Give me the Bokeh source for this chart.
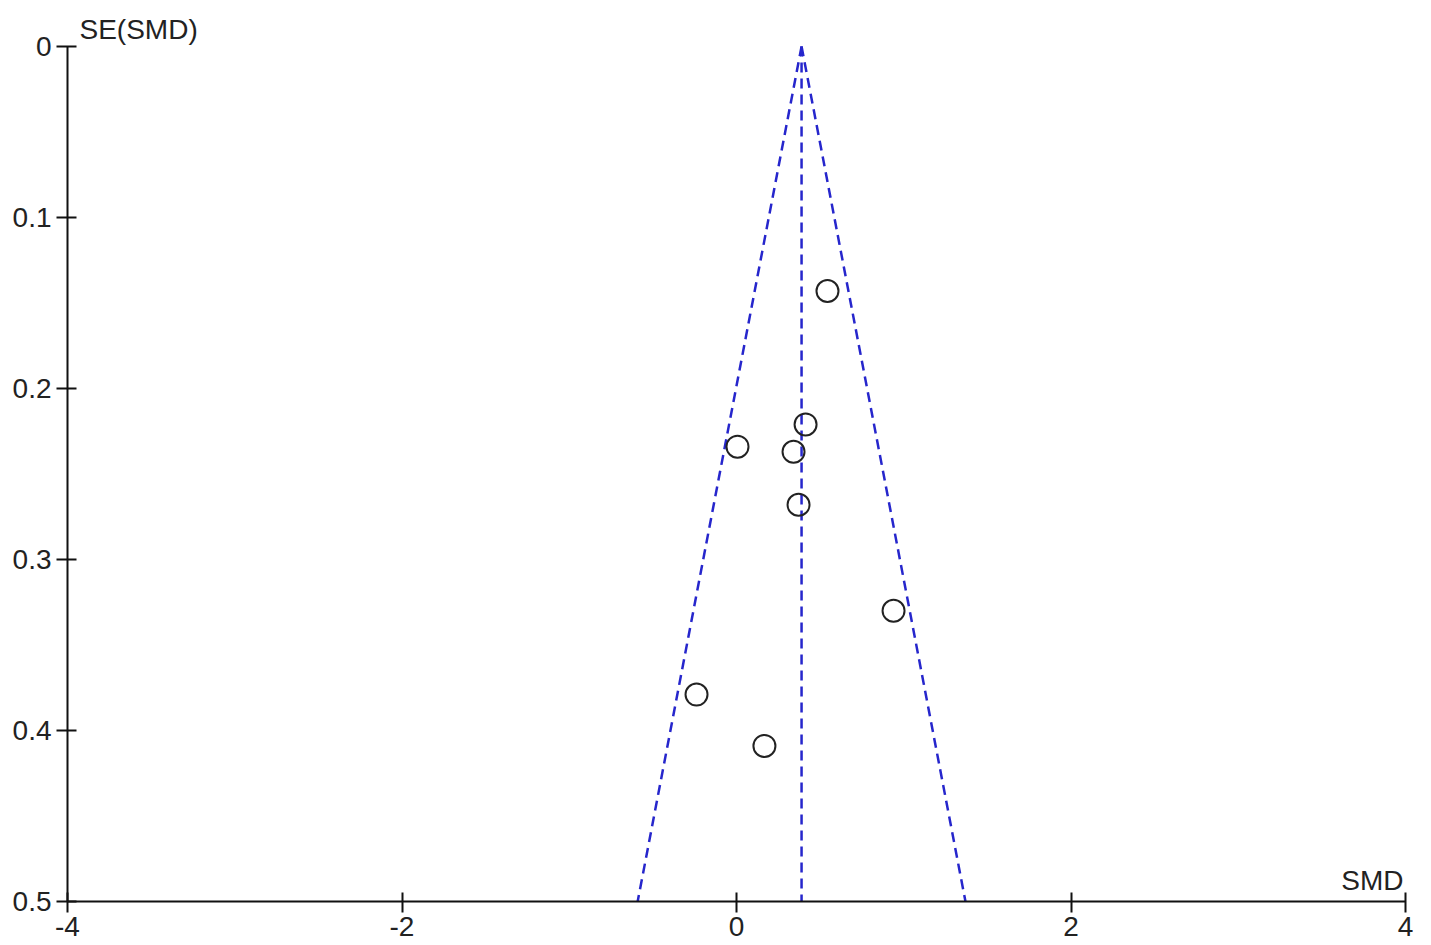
from bokeh.plotting import figure
from bokeh.models import Range1d, FixedTicker, Label
from bokeh.embed import file_html
from bokeh.resources import INLINE

# data
smd = [0.544, 0.413, 0.006, 0.341, 0.371, 0.939, -0.239, 0.167]
se = [0.143, 0.221, 0.234, 0.237, 0.268, 0.330, 0.379, 0.409]
pooled = 0.389
se_max = 0.5
x_ticks = [-4, -2, 0, 2, 4]
y_ticks = [0, 0.1, 0.2, 0.3, 0.4, 0.5]
y_labels = {0: "0", 0.1: "0.1", 0.2: "0.2", 0.3: "0.3", 0.4: "0.4", 0.5: "0.5"}
x_labels = {-4: "-4", -2: "-2", 0: "0", 2: "2", 4: "4"}

FONT = "Liberation Sans"
FS = "28px"

# frame: 0 at y=46, 0.5 at y=901 -> 1710 px per unit; extend frame up to y=4
top_border = 4
y_top = -(46 - top_border) / 1710.0

p = figure(width=1415, height=942, output_backend="svg", toolbar_location=None,
           x_range=Range1d(-4, 4), y_range=Range1d(0.5, y_top))
p.min_border_left = 67
p.min_border_right = 10
p.min_border_top = top_border
p.min_border_bottom = 41
p.outline_line_color = None
p.xgrid.grid_line_color = None
p.ygrid.grid_line_color = None
p.background_fill_color = "white"
p.border_fill_color = "white"

for ax in (p.xaxis[0], p.yaxis[0]):
    ax.axis_line_width = 2
    ax.axis_line_color = "#111111"
    ax.major_tick_line_width = 2
    ax.major_tick_line_color = "#111111"
    ax.minor_tick_line_color = None
    ax.major_tick_out = 11
    ax.major_tick_in = 9
    ax.major_label_text_font = FONT
    ax.major_label_text_font_size = FS
    ax.major_label_text_color = "#222222"

p.xaxis[0].ticker = FixedTicker(ticks=x_ticks)
p.xaxis[0].major_label_overrides = x_labels
p.xaxis[0].major_label_standoff = 4
p.yaxis[0].ticker = FixedTicker(ticks=y_ticks)
p.yaxis[0].major_label_overrides = y_labels
p.yaxis[0].major_label_standoff = 5
p.yaxis[0].bounds = (0, 0.5)

# funnel lines
left_x = pooled - 1.96 * se_max
right_x = pooled + 1.96 * se_max
dash = "10 6"
col = "#2626CC"
p.line([pooled, left_x], [0, se_max], line_color=col, line_width=2.5, line_dash=dash)
p.line([pooled, right_x], [0, se_max], line_color=col, line_width=2.5, line_dash=dash)
p.line([pooled, pooled], [0, se_max], line_color=col, line_width=2.5, line_dash=dash)

p.scatter(smd, se, size=22, marker="circle", fill_color=None,
          line_color="#222222", line_width=2)

p.add_layout(Label(x=-4, y=0, x_offset=12, y_offset=2, text="SE(SMD)",
                   text_font=FONT, text_font_size=FS, text_color="#222222",
                   text_baseline="bottom", text_align="left"))
p.add_layout(Label(x=4, y=0.5, x_offset=-2, y_offset=6, text="SMD",
                   text_font=FONT, text_font_size=FS, text_color="#222222",
                   text_baseline="bottom", text_align="right"))

open("out.html", "w").write(file_html(p, INLINE))
